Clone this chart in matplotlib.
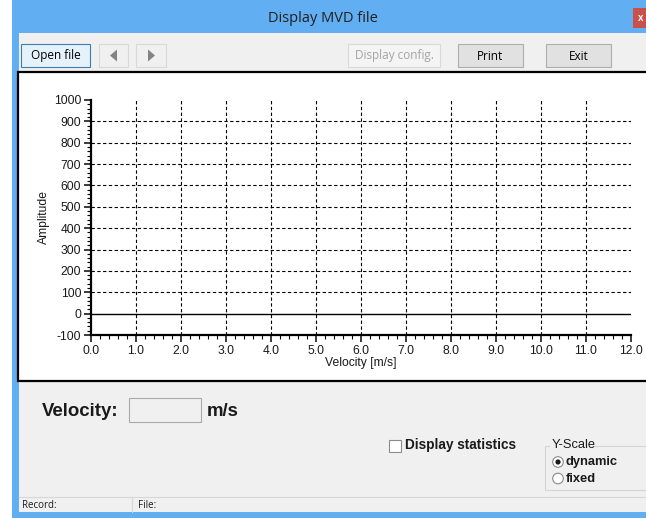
import matplotlib
matplotlib.use("Agg")
import matplotlib.pyplot as plt
from matplotlib.patches import Rectangle, Circle, Polygon
from matplotlib.ticker import MultipleLocator, FixedLocator

# ---- data ----
x_ticks = [0.0, 1.0, 2.0, 3.0, 4.0, 5.0, 6.0, 7.0, 8.0, 9.0, 10.0, 11.0, 12.0]
x_tick_labels = ["0.0", "1.0", "2.0", "3.0", "4.0", "5.0", "6.0", "7.0", "8.0", "9.0", "10.0", "11.0", "12.0"]
y_ticks = [-100, 0, 100, 200, 300, 400, 500, 600, 700, 800, 900, 1000]
y_tick_labels = ["-100", "0", "100", "200", "300", "400", "500", "600", "700", "800", "900", "1000"]
baseline_x = [0.0, 12.0]
baseline_y = [0, 0]
x_label = "Velocity [m/s]"
y_label = "Amplitude"
window_title = "Display MVD file"
toolbar_buttons = ["Open file", "Display config.", "Print", "Exit"]

W, H = 646, 518
fig = plt.figure(figsize=(W / 100, H / 100), dpi=100, facecolor="white")

ui = fig.add_axes([0, 0, 1, 1], zorder=0)
ui.set_xlim(0, W)
ui.set_ylim(H, 0)
ui.axis("off")

SANS = ["Liberation Sans", "DejaVu Sans"]
UI = ["Open Sans", "DejaVu Sans"]

def rect(x0, y0, x1, y1, fc, ec="none", lw=1.0, z=1):
    ui.add_patch(Rectangle((x0, y0), x1 - x0, y1 - y0, facecolor=fc, edgecolor=ec, linewidth=lw, zorder=z))

# window frame and client area
rect(12, 0, W, H, "#62aef2")
rect(19, 33, W, 512, "#f0f0f0")
ui.text(323, 19, window_title, ha="center", va="center", fontsize=10.5, family=UI, color="#202020", zorder=3)
# close button
rect(633, 8, W, 28, "#c9514b", z=2)
ui.text(641, 18, "x", ha="center", va="center", fontsize=7, family=SANS, color="white", weight="bold", zorder=3)

# toolbar buttons
rect(21, 44, 90, 67, "#e5f1fb", "#3c7fb1", 0.8, 2)
ui.text(55.5, 56, toolbar_buttons[0], ha="center", va="center", fontsize=8.5, family=UI, color="black", zorder=3)
rect(99, 44, 128, 67, "#f0f0f0", "#d9d9d9", 0.8, 2)
ui.add_patch(Polygon([[117, 49.5], [117, 61.5], [110, 55.5]], closed=True, facecolor="#838383", edgecolor="none", zorder=3))
rect(136, 44, 166, 67, "#f0f0f0", "#d9d9d9", 0.8, 2)
ui.add_patch(Polygon([[148, 49.5], [148, 61.5], [155, 55.5]], closed=True, facecolor="#838383", edgecolor="none", zorder=3))
rect(348, 44, 440, 67, "#f4f4f4", "#d9d9d9", 0.8, 2)
ui.text(394, 56, toolbar_buttons[1], ha="center", va="center", fontsize=8.5, family=UI, color="#a3a3a3", zorder=3)
rect(458, 44, 523, 67, "#e1e1e1", "#adadad", 0.8, 2)
ui.text(490.5, 56, toolbar_buttons[2], ha="center", va="center", fontsize=8.5, family=UI, color="black", zorder=3)
rect(546, 44, 611, 67, "#e1e1e1", "#adadad", 0.8, 2)
ui.text(578.5, 56, toolbar_buttons[3], ha="center", va="center", fontsize=8.5, family=UI, color="black", zorder=3)

# plot panel
rect(18, 72, W + 5, 381, "white", "black", 1.6, 2)

# lower controls
ui.text(42, 411, "Velocity:", ha="left", va="center", fontsize=13.4, family=SANS, weight="bold", color="#1a1a1a", zorder=3)
rect(129, 398, 201, 422, "#f0f0f0", "#a9a9a9", 0.8, 2)
ui.text(207, 411, "m/s", ha="left", va="center", fontsize=13.4, family=SANS, weight="bold", color="#1a1a1a", zorder=3)

rect(389, 439.5, 401, 451.5, "white", "#8c8c8c", 0.8, 2)
ui.text(405, 445.5, "Display statistics", ha="left", va="center", fontsize=9.8, family=SANS, weight="bold", color="#1a1a1a", zorder=3)

rect(545, 446, W + 5, 490, "none", "#d5d5d5", 0.8, 2)
rect(550, 439, 592, 452, "#f0f0f0", z=2.5)
ui.text(552, 445.5, "Y-Scale", ha="left", va="center", fontsize=9.3, family=SANS, color="#1a1a1a", zorder=3)
ui.add_patch(Circle((558, 462), 5.3, facecolor="white", edgecolor="#8a8a8a", linewidth=0.8, zorder=3))
ui.add_patch(Circle((558, 462), 2.6, facecolor="#1a1a1a", edgecolor="none", zorder=4))
ui.text(566, 462.5, "dynamic", ha="left", va="center", fontsize=9.3, family=SANS, weight="bold", color="#1a1a1a", zorder=3)
ui.add_patch(Circle((558, 478.5), 5.3, facecolor="white", edgecolor="#8a8a8a", linewidth=0.8, zorder=3))
ui.text(566, 479, "fixed", ha="left", va="center", fontsize=9.3, family=SANS, weight="bold", color="#1a1a1a", zorder=3)

# status bar
ui.plot([19, W], [497, 497], color="#d7d7d7", lw=0.8, zorder=3)
ui.plot([132, 132], [498, 512], color="#d7d7d7", lw=0.8, zorder=3)
ui.text(22, 505, "Record:", ha="left", va="center", fontsize=7, family=UI, color="#1a1a1a", zorder=3)
ui.text(138, 505, "File:", ha="left", va="center", fontsize=7, family=UI, color="#1a1a1a", zorder=3)

# ---- chart ----
L, R, T, B = 91, 631, 100, 335
ax = fig.add_axes([L / W, (H - B) / H, (R - L) / W, (B - T) / H], zorder=2)
ax.patch.set_alpha(0)
ax.set_xlim(0, 12)
ax.set_ylim(-100, 1000)

ax.plot(baseline_x, baseline_y, color="black", lw=1.0, zorder=3)

dash = (0, (3, 2.2))
for xv in x_ticks[1:-1]:
    ax.axvline(xv, color="black", lw=0.8, linestyle=dash, zorder=2)
for yv in y_ticks:
    if 0 < yv < 1000:
        ax.axhline(yv, color="black", lw=0.8, linestyle=dash, zorder=2)

ax.spines["top"].set_visible(False)
ax.spines["right"].set_visible(False)
ax.spines["left"].set_linewidth(1.6)
ax.spines["bottom"].set_linewidth(1.6)

ax.xaxis.set_major_locator(FixedLocator(x_ticks))
ax.set_xticklabels(x_tick_labels)
ax.xaxis.set_minor_locator(MultipleLocator(0.2))
ax.yaxis.set_major_locator(FixedLocator(y_ticks))
ax.set_yticklabels(y_tick_labels)
ax.yaxis.set_minor_locator(MultipleLocator(20))

ax.tick_params(axis="both", which="major", direction="out", length=5, width=1.2, labelsize=8.7, colors="#1a1a1a", pad=2)
ax.tick_params(axis="both", which="minor", direction="out", length=3, width=0.8)
for lab in ax.get_xticklabels() + ax.get_yticklabels():
    lab.set_family(SANS)

ax.set_xlabel(x_label, fontsize=8.7, family=SANS, color="#1a1a1a", labelpad=0)
ax.set_ylabel(y_label, fontsize=8.7, family=SANS, color="#1a1a1a", labelpad=3)

fig.savefig("out.png", dpi=100, facecolor="white")
